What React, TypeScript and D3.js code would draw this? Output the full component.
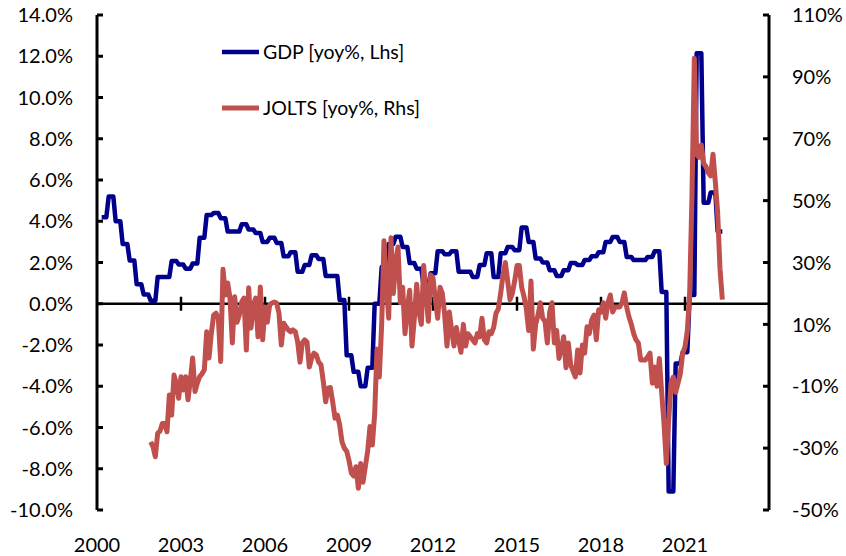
import React from 'react';
import * as d3 from 'd3';

// GDP, real, yoy % (quarterly, 2000Q1 .. 2022Q1) — left axis
const gdpQuarterly: number[] = [
  4.2, 5.2, 4.0, 2.9,
  2.1, 0.95, 0.45, 0.15,
  1.3, 1.3, 2.07, 1.9,
  1.7, 1.95, 3.2, 4.3,
  4.4, 4.15, 3.5, 3.5,
  3.85, 3.6, 3.43, 3.0,
  3.2, 2.95, 2.3, 2.5,
  1.55, 1.88, 2.35, 2.17,
  1.35, 1.35, 0.18, -2.5,
  -3.3, -4.0, -3.1, 0.0,
  1.78, 2.9, 3.25, 2.75,
  1.97, 1.7, 0.85, 1.48,
  2.55, 2.4, 2.55, 1.55,
  1.55, 1.3, 1.88, 2.45,
  1.3, 2.45, 2.75, 2.6,
  3.7, 3.0, 2.2, 2.0,
  1.63, 1.35, 1.63, 1.97,
  1.88, 2.12, 2.3, 2.5,
  3.0, 3.24, 3.0, 2.27,
  2.12, 2.12, 2.27, 2.55,
  0.57, -9.1, -2.9, -2.35,
  0.42, 12.15, 4.9, 5.4,
  3.5,
];
const gdpStartYear = 2000;

// JOLTS job openings, yoy % (monthly, Dec 2001 .. May 2022) — right axis
const joltsStartYear = 2001;
const joltsStartMonth = 11; // December (0-based)
const joltsMonthly: number[] = [
  -28,
  -29.5, -32.8, -25.2, -24.5, -22, -22, -24.7, -12.8, -19.3, -6.4, -9, -13.9,
  -6.9, -11.2, -6.9, -14.4, -8, -0.9, -11.7, -9, -6.9, -6, -4.7, 7.6,
  -0.9, 7.1, 13, 13.6, 12, -2, 27.8, 19.5, 23.4, 18.5, 4, 18.9,
  10.7, 13, 17.2, 18.5, 1.7, 21.8, 8.8, 16.3, 18.5, 6, 22.1, 5,
  15.6, 10.7, 16.3, 16.9, 17.2, 16.9, 13.6, 3.3, 10.4, 9.2, 8.2, 7.6,
  8.2, 7.6, 4.3, -2.2, 4, 5, 4.3, -3.8, -0.9, 0.7, 0.1, -2.2,
  -3.1, -8.6, -15, -10.6, -10.4, -15, -20.3, -19.3, -22.5, -28, -30, -31,
  -34, -38, -39, -36, -43, -35, -41, -36, -31, -23, -29, -19,
  2, -7, 10, 37, 23, 12, 38, 20, 30, 35, 17, 22,
  7, 15, 21, 3, 12, 23, 14, 10, 29, 20, 11, 26,
  25, 18, 12, 22, 20, 13, 3, 14, 8, 3, 9, 5,
  1, 10, 3, 7, 6, 5, 4, 7, 6, 12, 5, 4,
  7.6, 7, 9, 13.6, 15, 20, 26, 30, 24, 18, 20, 24,
  29, 29, 22, 19, 15, 8, 24, 2, 10, 13, 17, 12,
  11, 4, 14, 17, 4, 8, -1, 2, 6, -4, 4, -3,
  -5, -7, 1.7, -5.7, 3.3, 0.7, 9.2, 7, 11.4, 13, 5, 14.7,
  14, 17, 12, 17, 19.5, 14, 15.6, 15.6, 15.6, 16.9, 20.2, 15.6,
  12.4, 10, 7, 5, 4, -1.5, -1.5, -1.5, -0.5, 0.7, -9, -3.8,
  -10, -1, -12, -22, -35, -21, -9, -7, -12, -9, -6, 0.7,
  2.7, 8, 20, 52, 96, 65, 64, 68, 62, 61, 59, 58,
  65, 56, 46, 28, 18,
];

const leftTicks = [-10, -8, -6, -4, -2, 0, 2, 4, 6, 8, 10, 12, 14];
const rightTicks = [-50, -30, -10, 10, 30, 50, 70, 90, 110];
const xTickYears = [2000, 2003, 2006, 2009, 2012, 2015, 2018, 2021];
const seriesNames = ['GDP [yoy%, Lhs]', 'JOLTS [yoy%, Rhs]'];
const colors = ['#00008C', '#C0504D'];

const W = 846;
const H = 556;
const FONT = 'Lato, "Open Sans", "DejaVu Sans", sans-serif';

export default function App() {
  const x = d3.scaleLinear().domain([2000, 2024]).range([97, 769]);
  const yL = d3.scaleLinear().domain([-10, 14]).range([510, 15]);
  const yR = d3.scaleLinear().domain([-50, 110]).range([510, 15]);

  // GDP quarterly values carried on monthly points (quarter-end month + 2 following)
  const gdpPts: [number, number][] = [];
  gdpQuarterly.forEach((v, q) => {
    for (let k = 0; k < 3; k++) {
      const m = 3 * q + 2 + k;
      gdpPts.push([gdpStartYear + m / 12, v]);
    }
  });
  const joltsPts: [number, number][] = joltsMonthly.map((v, i) => [
    joltsStartYear + (joltsStartMonth + i) / 12,
    v,
  ]);

  const gdpLine = d3
    .line<[number, number]>()
    .x((d) => x(d[0]))
    .y((d) => yL(d[1]));
  const joltsLine = d3
    .line<[number, number]>()
    .x((d) => x(d[0]))
    .y((d) => yR(d[1]));

  const x0 = x(2000);
  const x1 = x(2024);
  const zeroY = yL(0);

  return (
    <svg
      width={W}
      height={H}
      style={{ position: 'absolute', left: 0, top: 0, background: '#fff' }}
      fontFamily={FONT}
    >
      <rect x={0} y={0} width={W} height={H} fill="#fff" />
      {/* left axis */}
      <line x1={x0} x2={x0} y1={yL(14)} y2={yL(-10)} stroke="#000" strokeWidth={3} />
      {leftTicks.map((t) => (
        <g key={'l' + t}>
          <line x1={x0} x2={x0 + 6} y1={yL(t)} y2={yL(t)} stroke="#000" strokeWidth={3} />
          <text
            x={73}
            y={yL(t)}
            dy="0.36em"
            textAnchor="end"
            fontSize={20}
            fill="#000"
          >
            {t.toFixed(1) + '%'}
          </text>
        </g>
      ))}
      {/* right axis */}
      <line x1={x1} x2={x1} y1={yR(110)} y2={yR(-50)} stroke="#000" strokeWidth={3} />
      {rightTicks.map((t) => (
        <g key={'r' + t}>
          <line x1={x1 - 6} x2={x1} y1={yR(t)} y2={yR(t)} stroke="#000" strokeWidth={3} />
          <text x={792} y={yR(t)} dy="0.36em" textAnchor="start" fontSize={20} fill="#000">
            {t + '%'}
          </text>
        </g>
      ))}
      {/* x axis at 0% */}
      <line x1={x0} x2={x1} y1={zeroY} y2={zeroY} stroke="#000" strokeWidth={2.5} />
      {xTickYears.map((yr) => (
        <g key={'x' + yr}>
          {yr !== 2000 && (
            <line
              x1={x(yr)}
              x2={x(yr)}
              y1={zeroY - 7}
              y2={zeroY + 7}
              stroke="#000"
              strokeWidth={2.5}
            />
          )}
          <text x={x(yr)} y={552} textAnchor="middle" fontSize={20} fill="#000">
            {yr}
          </text>
        </g>
      ))}
      {/* series */}
      <path
        d={gdpLine(gdpPts) || ''}
        fill="none"
        stroke={colors[0]}
        strokeWidth={4.5}
        strokeLinejoin="round"
      />
      <path
        d={joltsLine(joltsPts) || ''}
        fill="none"
        stroke={colors[1]}
        strokeWidth={5}
        strokeLinejoin="round"
      />
      {/* legend */}
      {seriesNames.map((name, i) => {
        const ly = 52 + i * 56;
        return (
          <g key={name}>
            <line x1={222} x2={259} y1={ly} y2={ly} stroke={colors[i]} strokeWidth={i === 0 ? 4.5 : 5} />
            <text x={263} y={ly} dy="0.36em" fontSize={19.5} fill="#000">
              {name}
            </text>
          </g>
        );
      })}
    </svg>
  );
}
